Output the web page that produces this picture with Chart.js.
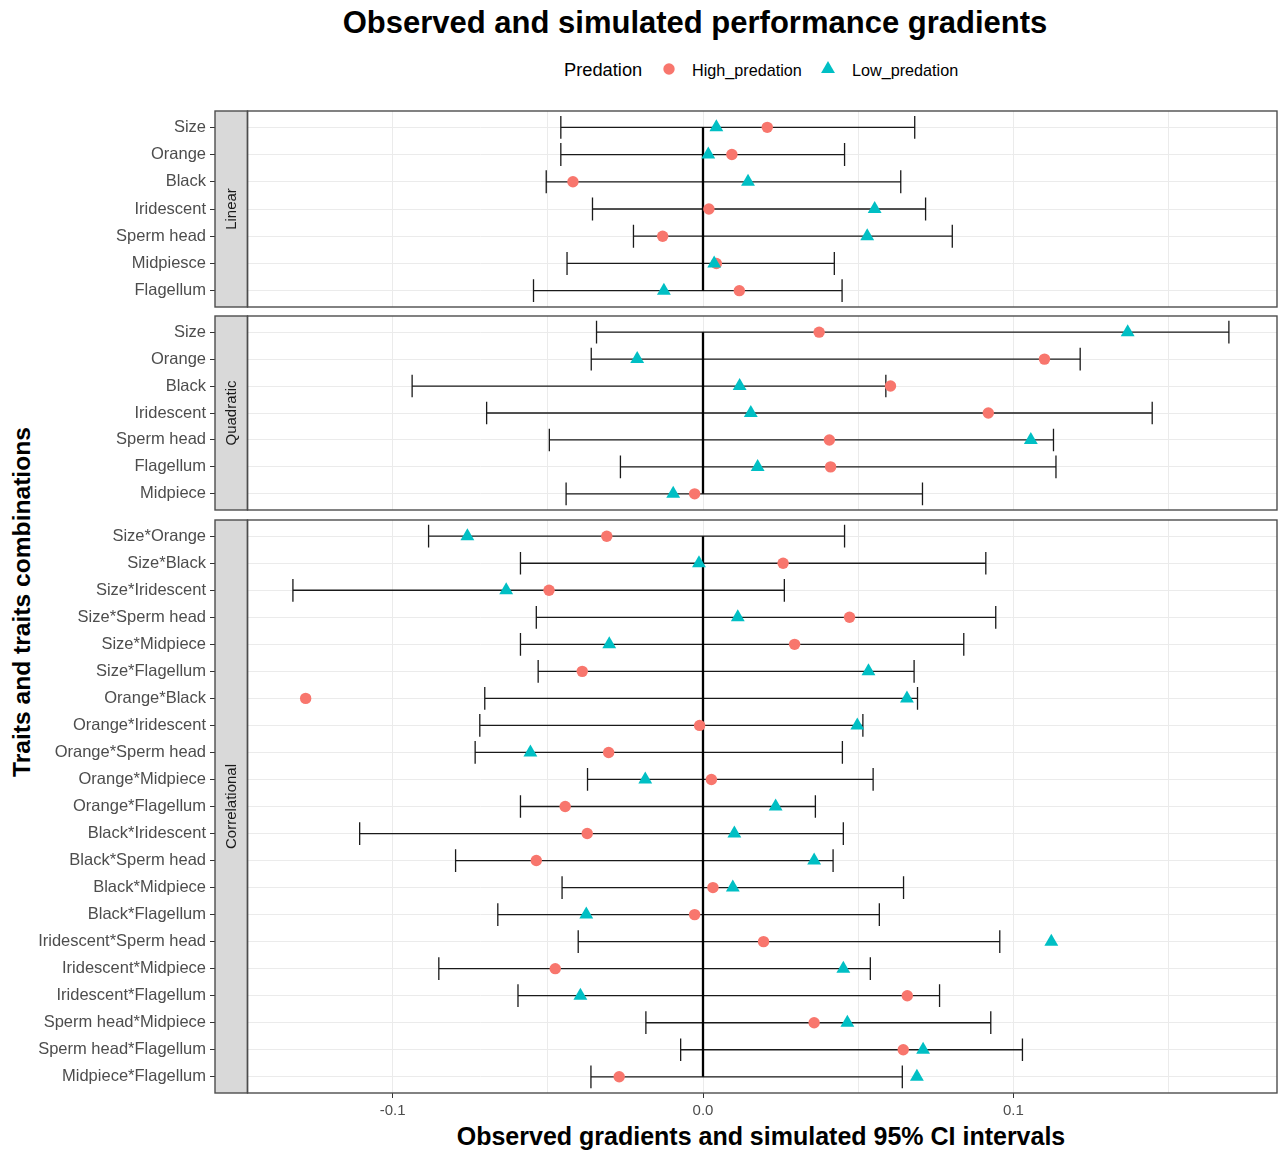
<!DOCTYPE html>
<html>
<head>
<meta charset="utf-8">
<title>Observed and simulated performance gradients</title>
<script src="https://cdn.jsdelivr.net/npm/chart.js@4.4.0/dist/chart.umd.min.js"></script>
<style>
    body { margin: 0; background: #fff; font-family: "Liberation Sans", Arial, sans-serif; }
    #page { position: relative; width: 1279px; height: 1152px; overflow: hidden; background: #fff; }
    canvas { position: absolute; left: 0; }
    .txt { position: absolute; white-space: nowrap; color: #000; line-height: 1; }
    .ttl { font-weight: bold; }
    svg { position: absolute; overflow: visible; }
</style>
</head>
<body>
<div id="page">
    <div class="txt ttl" id="title" style="font-size:31px; left:695px; top:7px; transform:translateX(-50%);">Observed and simulated performance gradients</div>

    <div class="txt" style="font-size:18.3px; left:564px; top:61px;">Predation</div>
    <svg style="left:669px; top:69px;" width="1" height="1"><circle cx="0" cy="0" r="5.7" fill="#F8766D"/></svg>
    <div class="txt" style="font-size:16.2px; left:692px; top:62px;">High_predation</div>
    <svg style="left:828px; top:69px;" width="1" height="1"><polygon points="0,-8 6.93,4 -6.93,4" fill="#00BFC4"/></svg>
    <div class="txt" style="font-size:16.2px; left:852px; top:62px;">Low_predation</div>

    <div class="txt ttl" style="font-size:24.6px; left:22px; top:602px; transform:translate(-50%,-50%) rotate(-90deg);">Traits and traits combinations</div>
    <div class="txt ttl" style="font-size:25px; left:761px; top:1124px; transform:translateX(-50%);">Observed gradients and simulated 95% CI intervals</div>

    <canvas id="linearChart" width="1279" height="228" style="top:95px;"></canvas>
    <canvas id="quadraticChart" width="1279" height="226" style="top:300px;"></canvas>
    <canvas id="correlationalChart" width="1279" height="619" style="top:504px;"></canvas>
</div>

<script>
// x axis ticks (labels only on the major ones)
const xTicks = [-0.1, -0.05, 0, 0.05, 0.1, 0.15];
const xTickLabels = ['-0.1', '', '0.0', '', '0.1', ''];

// Linear gradients
const linearLabels = ['Size', 'Orange', 'Black', 'Iridescent', 'Sperm head', 'Midpiesce', 'Flagellum'];
const linearHigh = [0.0207, 0.0093, -0.0419, 0.0019, -0.0130, 0.0043, 0.0117];
const linearLow = [0.0043, 0.0017, 0.0145, 0.0553, 0.0529, 0.0036, -0.0126];
const linearLo = [-0.0458, -0.0458, -0.0505, -0.0356, -0.0224, -0.0438, -0.0546];
const linearHi = [0.0682, 0.0456, 0.0637, 0.0717, 0.0803, 0.0423, 0.0448];

// Quadratic gradients
const quadLabels = ['Size', 'Orange', 'Black', 'Iridescent', 'Sperm head', 'Flagellum', 'Midpiece'];
const quadHigh = [0.0374, 0.1100, 0.0604, 0.0919, 0.0407, 0.0411, -0.0027];
const quadLow = [0.1368, -0.0212, 0.0118, 0.0154, 0.1056, 0.0176, -0.0096];
const quadLo = [-0.0343, -0.0360, -0.0937, -0.0697, -0.0495, -0.0266, -0.0441];
const quadHi = [0.1694, 0.1215, 0.0589, 0.1447, 0.1129, 0.1137, 0.0707];

// Correlational gradients
const corrLabels = ['Size*Orange', 'Size*Black', 'Size*Iridescent', 'Size*Sperm head', 'Size*Midpiece',
    'Size*Flagellum', 'Orange*Black', 'Orange*Iridescent', 'Orange*Sperm head', 'Orange*Midpiece',
    'Orange*Flagellum', 'Black*Iridescent', 'Black*Sperm head', 'Black*Midpiece', 'Black*Flagellum',
    'Iridescent*Sperm head', 'Iridescent*Midpiece', 'Iridescent*Flagellum', 'Sperm head*Midpiece',
    'Sperm head*Flagellum', 'Midpiece*Flagellum'];
const corrHigh = [-0.0310, 0.0258, -0.0496, 0.0472, 0.0295, -0.0389, -0.1280, -0.0011, -0.0304, 0.0027,
    -0.0444, -0.0373, -0.0537, 0.0032, -0.0027, 0.0195, -0.0476, 0.0658, 0.0358, 0.0645, -0.0270];
const corrLow = [-0.0759, -0.0013, -0.0634, 0.0112, -0.0302, 0.0533, 0.0657, 0.0497, -0.0556, -0.0186,
    0.0234, 0.0101, 0.0358, 0.0096, -0.0376, 0.1122, 0.0452, -0.0395, 0.0465, 0.0709, 0.0689];
const corrLo = [-0.0884, -0.0588, -0.1321, -0.0537, -0.0588, -0.0531, -0.0703, -0.0719, -0.0734, -0.0372,
    -0.0588, -0.1106, -0.0797, -0.0454, -0.0661, -0.0402, -0.0851, -0.0596, -0.0184, -0.0072, -0.0361];
const corrHi = [0.0456, 0.0911, 0.0262, 0.0943, 0.0840, 0.0680, 0.0691, 0.0515, 0.0449, 0.0548,
    0.0362, 0.0452, 0.0419, 0.0646, 0.0568, 0.0956, 0.0539, 0.0762, 0.0927, 0.1029, 0.0642];

const X_MIN = -0.1572;
const X_MAX = 0.1849;
const CAP = 0.42;        // half height of the error bar caps (row units)
const STRIP_W = 32.5;    // facet strip width in px
const FONT = '"Liberation Sans", Arial, sans-serif';

Chart.defaults.font.family = FONT;

// grey facet strip + panel border, ggplot theme_bw style
const stripPlugin = {
    id: 'strip',
    afterDraw(chart, args, opts) {
        const a = chart.chartArea;
        const ctx = chart.ctx;
        const right = a.left + STRIP_W;
        ctx.save();
        ctx.fillStyle = '#D9D9D9';
        ctx.fillRect(a.left, a.top, STRIP_W, a.bottom - a.top);
        ctx.strokeStyle = '#4D4D4D';
        ctx.lineWidth = 1.4;
        ctx.strokeRect(a.left, a.top, STRIP_W, a.bottom - a.top);
        ctx.strokeRect(right, a.top, a.right - right, a.bottom - a.top);
        ctx.translate(a.left + STRIP_W / 2, (a.top + a.bottom) / 2);
        ctx.rotate(-Math.PI / 2);
        ctx.fillStyle = '#1A1A1A';
        ctx.font = '15px ' + FONT;
        ctx.textAlign = 'center';
        ctx.textBaseline = 'middle';
        ctx.fillText(opts.text, 0, 1);
        ctx.restore();
    }
};

function ciSegments(lo, hi) {
    const pts = [];
    lo.forEach((l, i) => {
        const h = hi[i];
        pts.push({ x: l, y: i }, { x: h, y: i }, { x: null, y: null });
        pts.push({ x: l, y: i - CAP }, { x: l, y: i + CAP }, { x: null, y: null });
        pts.push({ x: h, y: i - CAP }, { x: h, y: i + CAP }, { x: null, y: null });
    });
    return pts;
}

function toPoints(values) {
    return values.map((v, i) => ({ x: v, y: i }));
}

function drawPanel(canvasId, strip, labels, high, low, lo, hi, showX) {
    const ctx = document.getElementById(canvasId).getContext('2d');
    const n = labels.length;

    return new Chart(ctx, {
        type: 'scatter',
        data: {
            datasets: [
                {
                    label: 'Low_predation',
                    data: toPoints(low),
                    pointStyle: 'triangle',
                    pointRadius: 8,
                    backgroundColor: '#00BFC4',
                    borderWidth: 0
                },
                {
                    label: 'High_predation',
                    data: toPoints(high),
                    pointStyle: 'circle',
                    pointRadius: 5.7,
                    backgroundColor: '#F8766D',
                    borderWidth: 0
                },
                {
                    label: 'zero',
                    data: [{ x: 0, y: 0 }, { x: 0, y: n - 1 }],
                    showLine: true,
                    pointRadius: 0,
                    borderColor: '#000000',
                    borderWidth: 2.3
                },
                {
                    label: 'CI',
                    data: ciSegments(lo, hi),
                    showLine: true,
                    spanGaps: false,
                    pointRadius: 0,
                    borderColor: '#1A1A1A',
                    borderWidth: 1.3
                }
            ]
        },
        options: {
            responsive: false,
            animation: false,
            events: [],
            layout: {
                autoPadding: false,
                padding: { top: 16, bottom: showX ? 0 : 16, left: 0, right: 2 }
            },
            plugins: {
                legend: { display: false },
                tooltip: { enabled: false },
                strip: { text: strip }
            },
            scales: {
                x: {
                    type: 'linear',
                    min: X_MIN,
                    max: X_MAX,
                    afterBuildTicks: (scale) => {
                        scale.ticks = xTicks.map(v => ({ value: v }));
                    },
                    afterFit: (scale) => {
                        scale.height = showX ? 30 : 0;
                    },
                    border: { display: false },
                    grid: {
                        color: '#EBEBEB',
                        lineWidth: 1,
                        drawTicks: showX,
                        tickLength: 5,
                        tickColor: (c) => (xTickLabels[c.index] ? '#333333' : 'rgba(0,0,0,0)')
                    },
                    ticks: {
                        display: showX,
                        autoSkip: false,
                        maxRotation: 0,
                        padding: 4,
                        color: '#4D4D4D',
                        font: { size: 15 },
                        callback: (value, index) => xTickLabels[index]
                    }
                },
                y: {
                    type: 'linear',
                    reverse: true,
                    min: -0.6,
                    max: n - 0.4,
                    afterBuildTicks: (scale) => {
                        scale.ticks = labels.map((_, i) => ({ value: i }));
                    },
                    afterFit: (scale) => {
                        scale.width = 215;
                    },
                    border: { display: false },
                    grid: {
                        color: '#EBEBEB',
                        lineWidth: 1,
                        drawTicks: true,
                        tickLength: 5,
                        tickColor: '#333333'
                    },
                    ticks: {
                        autoSkip: false,
                        padding: 4,
                        color: '#4D4D4D',
                        font: { size: 16.5 },
                        callback: (value) => labels[value]
                    }
                }
            }
        },
        plugins: [stripPlugin]
    });
}

drawPanel('linearChart', 'Linear', linearLabels, linearHigh, linearLow, linearLo, linearHi, false);
drawPanel('quadraticChart', 'Quadratic', quadLabels, quadHigh, quadLow, quadLo, quadHi, false);
drawPanel('correlationalChart', 'Correlational', corrLabels, corrHigh, corrLow, corrLo, corrHi, true);
</script>
</body>
</html>
